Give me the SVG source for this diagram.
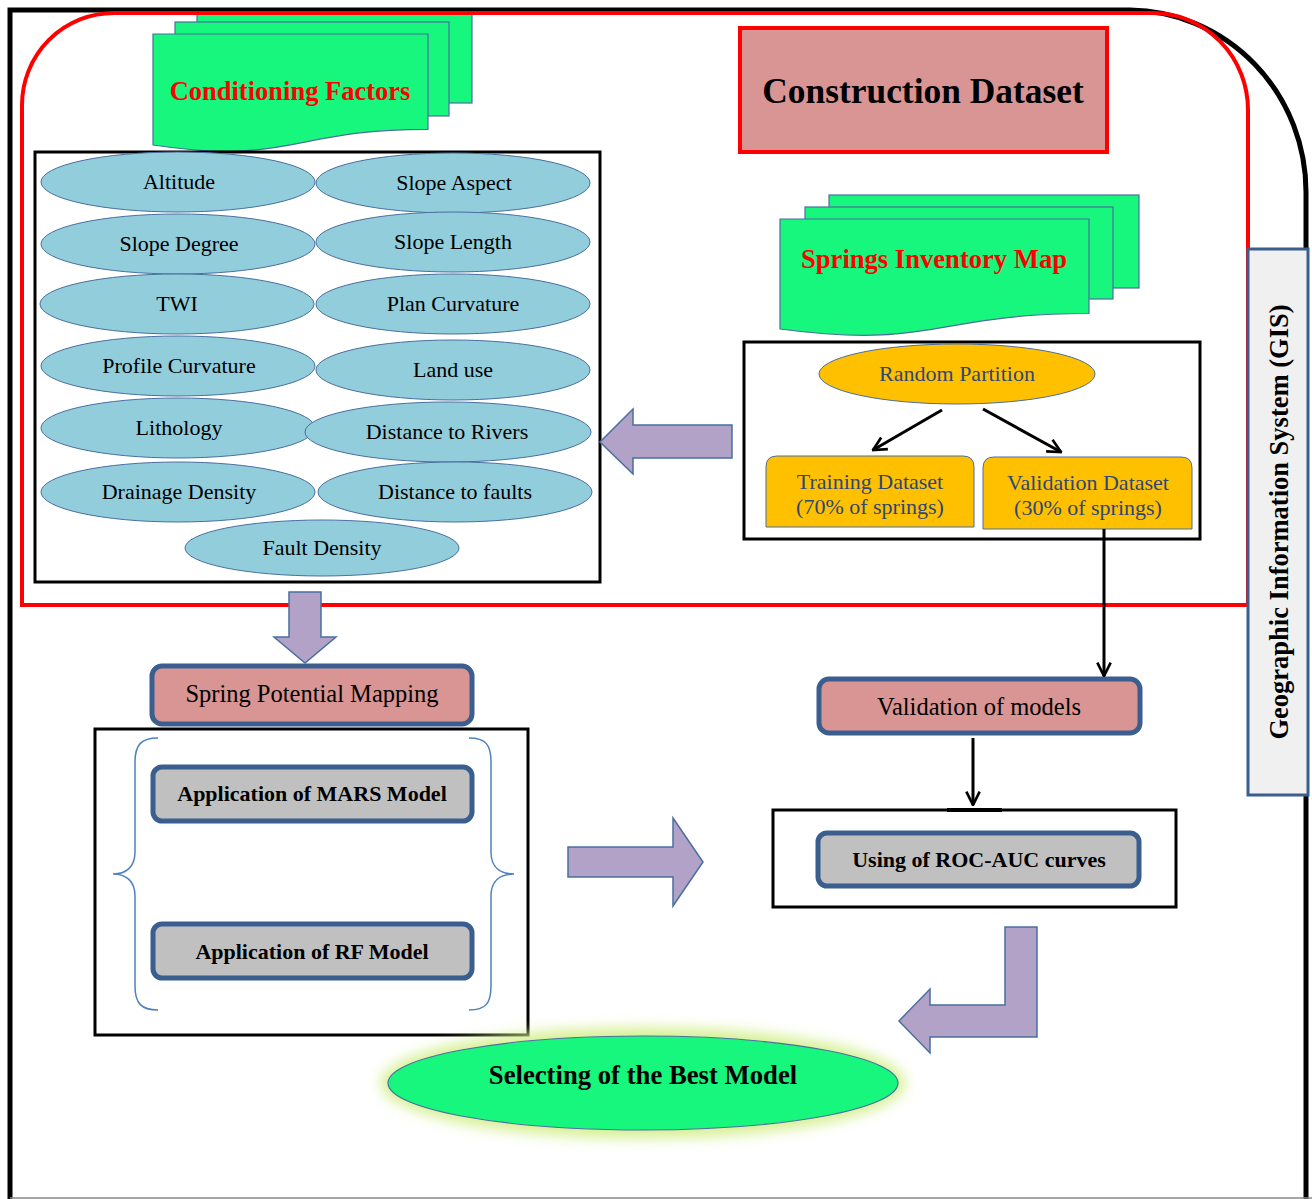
<svg xmlns="http://www.w3.org/2000/svg" width="1312" height="1199" viewBox="0 0 1312 1199">
<defs>
<style>
.t{font-family:"Liberation Serif","Times New Roman",serif;text-anchor:middle;fill:#000}
.b{font-weight:bold}
.el{fill:#92cddc;stroke:#4a6fa0;stroke-width:1}
.doc{fill:#17f77d;stroke:#4a6fa0;stroke-width:1.2}
.pur{fill:#b2a2c7;stroke:#4a6fa0;stroke-width:1.5}
.box{fill:none;stroke:#000;stroke-width:3}
.rr{stroke:#3a5f8f;stroke-width:5}
.ora{fill:#ffc000;stroke:#4a6fa0;stroke-width:1}
.blue{fill:#2f4778}
.con{fill:none;stroke:#000;stroke-width:3}
.brace{fill:none;stroke:#4f81bd;stroke-width:1.5}
.f22{font-size:22px}
</style>
<marker id="ah" viewBox="0 0 12 12" refX="11" refY="6" markerWidth="16" markerHeight="16" markerUnits="userSpaceOnUse" orient="auto">
<path d="M1,1 L11,6 L1,11" fill="none" stroke="#000" stroke-width="2"/>
</marker>
<filter id="glow" x="-20%" y="-40%" width="140%" height="180%">
<feGaussianBlur stdDeviation="7"/>
</filter>
</defs>
<rect width="1312" height="1199" fill="#fff"/>

<g id="outer-border">
<path d="M10,1199 V10 H1130 A178,182 0 0 1 1306,192 V1199" fill="none" stroke="#000" stroke-width="5"/>
<line x1="10" y1="1198" x2="1312" y2="1198" stroke="#888" stroke-width="1.5"/>
</g>

<g id="conditioning-factors-doc">
<rect class="doc" x="197" y="14" width="275" height="89"/>
<rect class="doc" x="175" y="22" width="274" height="94"/>
<path class="doc" d="M153,34 H428 V129.3 C290.5,129.3 290.5,165.7 153,145 Z"/>
<text class="t b" x="290" y="100" font-size="26.5" style="fill:#ff0000">Conditioning Factors</text>
</g>

<g id="construction-region">
<path d="M22,605 V105 A92,92 0 0 1 114,13 H1153 A95,97 0 0 1 1248,110 V605 Z" fill="none" stroke="#ff0000" stroke-width="4"/>
</g>

<g id="construction-dataset">
<rect x="740" y="28" width="367" height="124" fill="#d99594" stroke="#ff0000" stroke-width="4"/>
<text class="t b" x="923" y="103" font-size="35.4">Construction Dataset</text>
</g>

<g id="springs-inventory-doc">
<rect class="doc" x="829" y="195" width="310" height="93"/>
<rect class="doc" x="805" y="207" width="308" height="92"/>
<path class="doc" d="M780,219 H1089 V313.5 C934.5,313.5 934.5,349.5 780,329 Z"/>
<text class="t b" x="934" y="268" font-size="26.6" style="fill:#ff0000">Springs Inventory Map</text>
</g>

<g id="gis">
<rect x="1248" y="249" width="60" height="546" fill="#f0f0f0" stroke="#3a5f8f" stroke-width="3"/>
<text class="t b" transform="translate(1288,522) rotate(-90)" font-size="26.5">Geographic Information System (GIS)</text>
</g>

<g id="factors-box">
<rect class="box" x="35" y="152" width="565" height="430"/>
</g>
<g id="factor-altitude"><ellipse class="el" cx="178" cy="182" rx="137" ry="30"/><text class="t f22" x="179" y="189">Altitude</text></g>
<g id="factor-slope-aspect"><ellipse class="el" cx="453" cy="183" rx="137" ry="30"/><text class="t f22" x="454" y="190">Slope Aspect</text></g>
<g id="factor-slope-degree"><ellipse class="el" cx="178" cy="244" rx="137" ry="30"/><text class="t f22" x="179" y="251">Slope Degree</text></g>
<g id="factor-slope-length"><ellipse class="el" cx="453" cy="242" rx="137" ry="30"/><text class="t f22" x="453" y="249">Slope Length</text></g>
<g id="factor-twi"><ellipse class="el" cx="177" cy="304" rx="137" ry="30"/><text class="t f22" x="177" y="311">TWI</text></g>
<g id="factor-plan-curvature"><ellipse class="el" cx="453" cy="304" rx="137" ry="30"/><text class="t f22" x="453" y="311">Plan Curvature</text></g>
<g id="factor-profile-curvature"><ellipse class="el" cx="178" cy="366" rx="137" ry="30"/><text class="t f22" x="179" y="373">Profile Curvature</text></g>
<g id="factor-land-use"><ellipse class="el" cx="453" cy="370" rx="137" ry="30"/><text class="t f22" x="453" y="377">Land use</text></g>
<g id="factor-lithology"><ellipse class="el" cx="178" cy="428" rx="137" ry="30"/><text class="t f22" x="179" y="435">Lithology</text></g>
<g id="factor-distance-rivers"><ellipse class="el" cx="448" cy="432" rx="143" ry="30"/><text class="t f22" x="447" y="439">Distance to Rivers</text></g>
<g id="factor-drainage-density"><ellipse class="el" cx="178" cy="492" rx="137" ry="30"/><text class="t f22" x="179" y="499">Drainage Density</text></g>
<g id="factor-distance-faults"><ellipse class="el" cx="455" cy="492" rx="137" ry="30"/><text class="t f22" x="455" y="499">Distance to faults</text></g>
<g id="factor-fault-density"><ellipse class="el" cx="322" cy="548" rx="137" ry="28"/><text class="t f22" x="322" y="555">Fault Density</text></g>

<g id="partition-box">
<rect class="box" x="744" y="342" width="456" height="197"/>
</g>
<g id="random-partition"><ellipse class="ora" cx="957" cy="374" rx="138" ry="30"/><text class="t blue f22" x="957" y="381">Random Partition</text></g>
<g id="training-dataset">
<path class="ora" d="M766,527 V467 Q766,456 777,456 H963 Q974,456 974,467 V527 Z"/>
<text class="t blue f22" x="870" y="489">Training Dataset</text>
<text class="t blue f22" x="870" y="514">(70% of springs)</text>
</g>
<g id="validation-dataset">
<path class="ora" d="M983,529 V468 Q983,457 994,457 H1181 Q1192,457 1192,468 V529 Z"/>
<text class="t blue f22" x="1088" y="490">Validation Dataset</text>
<text class="t blue f22" x="1088" y="515">(30% of springs)</text>
</g>

<g id="spring-potential-mapping">
<rect class="rr" x="152" y="666" width="320" height="58" rx="10" fill="#d99594"/>
<text class="t" x="312" y="702" font-size="24.5">Spring Potential Mapping</text>
</g>

<g id="models-box">
<rect class="box" x="95" y="729" width="433" height="306"/>
<path class="brace" d="M158,738 C141,738 135,745 135,762 V852 C135,867 126,874 113,874 C126,874 135,881 135,896 V986 C135,1003 141,1010 158,1010"/>
<path class="brace" d="M469,738 C486,738 491,745 491,762 V852 C491,867 500,874 514,874 C500,874 491,881 491,896 V986 C491,1003 486,1010 469,1010"/>
</g>
<g id="mars-model">
<rect class="rr" x="153" y="767" width="319" height="54" rx="9" fill="#c0c0c0"/>
<text class="t b" x="312" y="801" font-size="22">Application of MARS Model</text>
</g>
<g id="rf-model">
<rect class="rr" x="153" y="924" width="319" height="54" rx="9" fill="#c0c0c0"/>
<text class="t b" x="312" y="959" font-size="22">Application of RF Model</text>
</g>

<g id="validation-of-models">
<rect class="rr" x="819" y="679" width="321" height="54" rx="10" fill="#d99594"/>
<text class="t" x="979" y="715" font-size="24.5">Validation of models</text>
</g>

<g id="roc-box">
<rect class="box" x="773" y="810" width="403" height="97"/>
<line x1="947" y1="810" x2="1002" y2="810" stroke="#000" stroke-width="4"/>
</g>
<g id="roc-auc">
<rect class="rr" x="818" y="833" width="321" height="53" rx="9" fill="#c0c0c0"/>
<text class="t b" x="979" y="867" font-size="22">Using of ROC-AUC curves</text>
</g>

<g id="best-model">
<ellipse cx="643" cy="1083" rx="262" ry="55" fill="#d4ef8e" filter="url(#glow)"/>
<ellipse cx="643" cy="1083" rx="255" ry="47" fill="#17f77d" stroke="#4a6fa0" stroke-width="1.2"/>
<text class="t b" x="643" y="1084" font-size="26.7">Selecting of the Best Model</text>
</g>

<g id="connectors">
<path class="pur" d="M732,425 H633 V409 L600,442 L633,474 V458 H732 Z"/>
<path class="pur" d="M289,592 H321 V637 H336 L305,663 L274,637 H289 Z"/>
<path class="pur" d="M568,847 H673 V818 L703,862 L673,906 V877 H568 Z"/>
<path class="pur" d="M1005,927 H1037 V1037 H930 V1053 L899,1021 L930,989 V1005 H1005 Z"/>
<line class="con" x1="942" y1="410" x2="873" y2="450" marker-end="url(#ah)"/>
<line class="con" x1="983" y1="409" x2="1061" y2="452" marker-end="url(#ah)"/>
<line class="con" x1="1104" y1="529" x2="1104" y2="676" marker-end="url(#ah)"/>
<line class="con" x1="973" y1="738" x2="973" y2="805" marker-end="url(#ah)"/>
</g>
</svg>
